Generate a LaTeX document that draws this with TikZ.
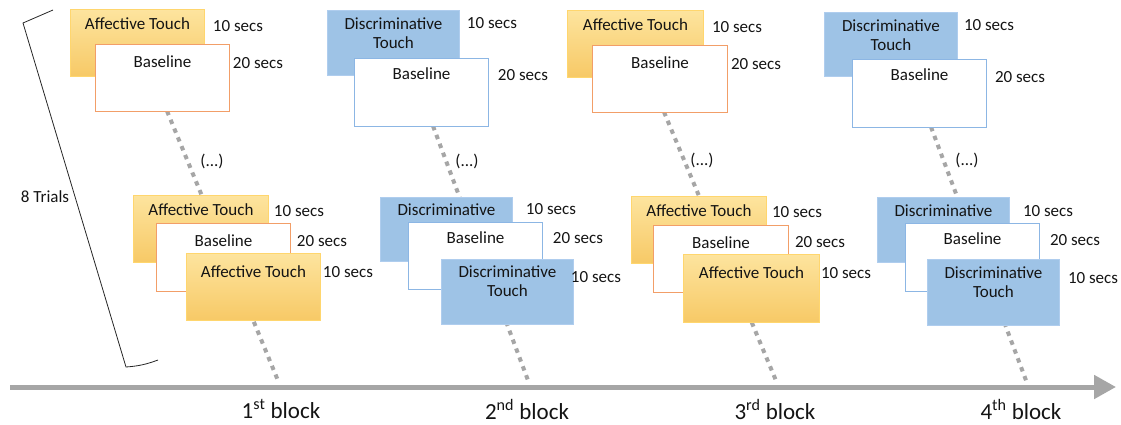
\documentclass[tikz,border=0pt]{standalone}
\usepackage{fontspec}
\setmainfont{Carlito}
\usetikzlibrary{arrows.meta}
\definecolor{ytop}{RGB}{253,228,158}
\definecolor{ybot}{RGB}{247,201,102}
\definecolor{yedge}{RGB}{255,214,110}
\definecolor{bfill}{RGB}{158,195,230}
\definecolor{bedge}{RGB}{175,205,238}
\definecolor{oedge}{RGB}{242,158,104}
\definecolor{wbedge}{RGB}{140,182,228}
\definecolor{dotc}{RGB}{166,166,166}
\definecolor{txtc}{RGB}{20,20,20}
\begin{document}
\begin{tikzpicture}[x=1pt,y=-1pt,
  ybox/.style={draw=yedge,line width=0.9pt,top color=ytop,bottom color=ybot,inner sep=0pt,anchor=north west},
  bbox/.style={draw=bedge,line width=0.9pt,fill=bfill,inner sep=0pt,anchor=north west},
  obase/.style={draw=oedge,line width=1.1pt,fill=white,inner sep=0pt,anchor=north west},
  bbase/.style={draw=wbedge,line width=1.1pt,fill=white,inner sep=0pt,anchor=north west},
  txt/.style={font=\fontsize{17}{19}\selectfont,align=center,inner sep=0pt,anchor=north,text=txtc},
  secs/.style={font=\fontsize{17}{19}\selectfont,inner sep=0pt,text=txtc},
  blk/.style={font=\fontsize{23}{25}\selectfont,inner sep=0pt,text=txtc},
  dots/.style={draw=dotc,line width=4pt,dash pattern=on 4.5pt off 5pt},
  timeline/.style={draw=dotc,line width=5pt,-{Triangle[length=22pt,width=23pt]}}
]
\useasboundingbox (0,0) rectangle (1121,425);

% bracket
\coordinate (br1) at (53,10);
\coordinate (br2) at (23,23);
\coordinate (br3) at (126,367);
\coordinate (br4) at (158,360);
\draw[line width=0.8pt,black!85] (br1) -- (br2) -- (br3) to[bend right=8] (br4);
\node[secs] (trials) at (45,197) {8 Trials};

% dotted lines (behind boxes)
\coordinate (d1a) at (167,111); \coordinate (d1b) at (279,383);
\coordinate (d2a) at (433,126); \coordinate (d2b) at (529,383);
\coordinate (d3a) at (664,112); \coordinate (d3b) at (777,383);
\coordinate (d4a) at (931,127); \coordinate (d4b) at (1027,383);
\draw[dots] (d1a) -- (d1b);
\draw[dots] (d2a) -- (d2b);
\draw[dots] (d3a) -- (d3b);
\draw[dots] (d4a) -- (d4b);

% timeline
\coordinate (t0) at (10,387);
\coordinate (t1) at (1116,387);
\draw[timeline] (t0) -- (t1);

% ---------- block 1 ----------
\node[ybox,minimum width=134,minimum height=67] (a1) at (70,9) {};
\node[txt] (a1t) at ([yshift=-8pt]a1.north) {Affective Touch};
\node[obase,minimum width=134,minimum height=67] (a2) at (95,44) {};
\node[txt] (a2t) at ([yshift=-11pt]a2.north) {Baseline};
\node[secs] (a1s) at (238,26) {10 secs};
\node[secs] (a2s) at (258,63) {20 secs};
\node[secs] (a0d) at (212,161) {(...)};

\node[ybox,minimum width=135,minimum height=67] (a3) at (133,195) {};
\node[txt] (a3t) at ([yshift=-8pt]a3.north) {Affective Touch};
\node[obase,minimum width=134,minimum height=68] (a4) at (156,223) {};
\node[txt] (a4t) at ([yshift=-11.5pt]a4.north) {Baseline};
\node[ybox,minimum width=134,minimum height=67] (a5) at (186,253) {};
\node[txt] (a5t) at ([yshift=-12pt]a5.north) {Affective Touch};
\node[secs] (a3s) at (299,211) {10 secs};
\node[secs] (a4s) at (322,241) {20 secs};
\node[secs] (a5s) at (348,272) {10 secs};

% ---------- block 2 ----------
\node[bbox,minimum width=132,minimum height=65] (b1) at (327,10) {};
\node[txt] (b1t) at ([yshift=-8pt]b1.north) {Discriminative\\Touch};
\node[bbase,minimum width=134,minimum height=68] (b2) at (354,58) {};
\node[txt] (b2t) at ([yshift=-9pt]b2.north) {Baseline};
\node[secs] (b1s) at (492,23) {10 secs};
\node[secs] (b2s) at (523,75) {20 secs};
\node[secs] (b0d) at (467,161) {(...)};

\node[bbox,minimum width=132,minimum height=64] (b3) at (380,197) {};
\node[txt] (b3t) at ([yshift=-7pt]b3.north) {Discriminative};
\node[bbase,minimum width=134,minimum height=67] (b4) at (408,222) {};
\node[txt] (b4t) at ([yshift=-9pt]b4.north) {Baseline};
\node[bbox,minimum width=132,minimum height=65] (b5) at (441,259) {};
\node[txt] (b5t) at ([yshift=-7pt]b5.north) {Discriminative\\Touch};
\node[secs] (b3s) at (551,209) {10 secs};
\node[secs] (b4s) at (578,238) {20 secs};
\node[secs] (b5s) at (596,277) {10 secs};

% ---------- block 3 ----------
\node[ybox,minimum width=136,minimum height=67] (c1) at (567,10) {};
\node[txt] (c1t) at ([yshift=-8pt]c1.north) {Affective Touch};
\node[obase,minimum width=135,minimum height=67] (c2) at (592,45) {};
\node[txt] (c2t) at ([yshift=-11pt]c2.north) {Baseline};
\node[secs] (c1s) at (737,27) {10 secs};
\node[secs] (c2s) at (756,64) {20 secs};
\node[secs] (c0d) at (702,160) {(...)};

\node[ybox,minimum width=135,minimum height=67] (c3) at (631,196) {};
\node[txt] (c3t) at ([yshift=-8pt]c3.north) {Affective Touch};
\node[obase,minimum width=135,minimum height=67] (c4) at (653,225) {};
\node[txt] (c4t) at ([yshift=-11pt]c4.north) {Baseline};
\node[ybox,minimum width=136,minimum height=68] (c5) at (683,254) {};
\node[txt] (c5t) at ([yshift=-12pt]c5.north) {Affective Touch};
\node[secs] (c3s) at (797,212) {10 secs};
\node[secs] (c4s) at (820,242) {20 secs};
\node[secs] (c5s) at (846,273) {10 secs};

% ---------- block 4 ----------
\node[bbox,minimum width=133,minimum height=64] (e1) at (824,12) {};
\node[txt] (e1t) at ([yshift=-8pt]e1.north) {Discriminative\\Touch};
\node[bbase,minimum width=134,minimum height=68] (e2) at (852,59) {};
\node[txt] (e2t) at ([yshift=-9pt]e2.north) {Baseline};
\node[secs] (e1s) at (989,25) {10 secs};
\node[secs] (e2s) at (1020,77) {20 secs};
\node[secs] (e0d) at (967,160) {(...)};

\node[bbox,minimum width=132,minimum height=65] (e3) at (877,197) {};
\node[txt] (e3t) at ([yshift=-8pt]e3.north) {Discriminative};
\node[bbase,minimum width=134,minimum height=68] (e4) at (905,223) {};
\node[txt] (e4t) at ([yshift=-9pt]e4.north) {Baseline};
\node[bbox,minimum width=132,minimum height=66] (e5) at (927,259) {};
\node[txt] (e5t) at ([yshift=-8pt]e5.north) {Discriminative\\Touch};
\node[secs] (e3s) at (1048,211) {10 secs};
\node[secs] (e4s) at (1075,240) {20 secs};
\node[secs] (e5s) at (1093,278) {10 secs};

% block labels
\node[blk] (l1) at (281,409) {1\textsuperscript{st} block};
\node[blk] (l2) at (527,409) {2\textsuperscript{nd} block};
\node[blk] (l3) at (775,409) {3\textsuperscript{rd} block};
\node[blk] (l4) at (1021,409) {4\textsuperscript{th} block};
\end{tikzpicture}
\end{document}
